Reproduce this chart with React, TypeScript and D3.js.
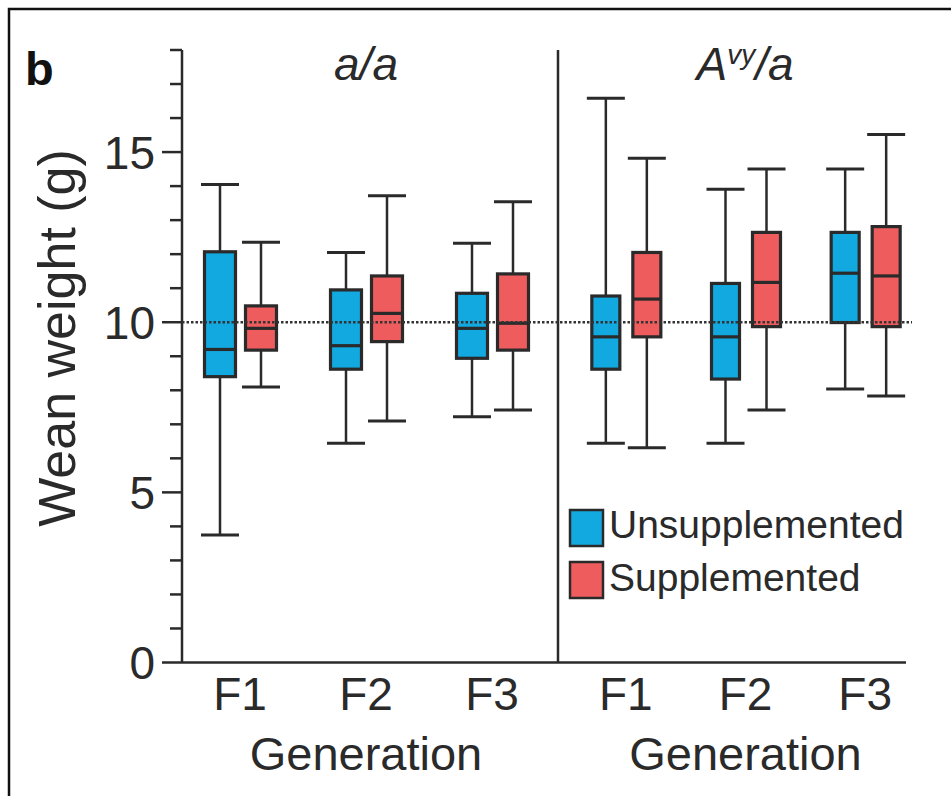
import React from 'react';
import * as d3 from 'd3';

const generations = ['F1', 'F2', 'F3'];
const seriesNames = ['Unsupplemented', 'Supplemented'];
const yTicksMajor = [0, 5, 10, 15];
const yTicksMinor = [1, 2, 3, 4, 6, 7, 8, 9, 11, 12, 13, 14, 16, 17, 18];
const referenceValue = 10;

// five-number summaries per generation: [low, q1, median, q3, high]
const aaUnsupplemented = [
  [3.75, 8.4, 9.2, 12.07, 14.05],
  [6.44, 8.62, 9.31, 10.95, 12.05],
  [7.22, 8.94, 9.82, 10.85, 12.32],
];
const aaSupplemented = [
  [8.1, 9.18, 9.82, 10.48, 12.35],
  [7.1, 9.43, 10.26, 11.36, 13.72],
  [7.42, 9.18, 9.97, 11.42, 13.54],
];
const avyUnsupplemented = [
  [6.44, 8.62, 9.57, 10.77, 16.58],
  [6.44, 8.33, 9.57, 11.14, 13.91],
  [8.04, 9.99, 11.44, 12.64, 14.5],
];
const avySupplemented = [
  [6.31, 9.57, 10.68, 12.05, 14.82],
  [7.42, 9.87, 11.17, 12.64, 14.5],
  [7.83, 9.87, 11.36, 12.81, 15.52],
];

const colors = ['#12a9e0', '#ee5c5d'];
const ink = '#2a2a2a';
const font = "'Liberation Sans', Arial, Helvetica, sans-serif";

export default function App() {
  const y = d3.scaleLinear().domain([0, 18]).range([662.5, 50]);
  const xLeft = d3.scaleBand().domain(generations).range([177, 555]);
  const xRight = d3.scaleBand().domain(generations).range([566, 925]);
  const axisX = 182;
  const axisEndX = 906;
  const dividerX = 558;

  const panels = [
    { scale: xLeft, data: [aaUnsupplemented, aaSupplemented], boxW: 31 },
    { scale: xRight, data: [avyUnsupplemented, avySupplemented], boxW: 28 },
  ];
  const offsets = [-20, 21];
  const capW = 38;

  const boxes: React.ReactNode[] = [];
  panels.forEach((p, pi) => {
    p.data.forEach((series, si) => {
      series.forEach((s, gi) => {
        const cx = (p.scale(generations[gi]) as number) + p.scale.bandwidth() / 2 + offsets[si];
        const [lo, q1, med, q3, hi] = s;
        boxes.push(
          <g key={`${pi}-${si}-${gi}`}>
            <line x1={cx} x2={cx} y1={y(hi)} y2={y(lo)} stroke={ink} strokeWidth={2.5} />
            <line x1={cx - capW / 2} x2={cx + capW / 2} y1={y(hi)} y2={y(hi)} stroke={ink} strokeWidth={3} />
            <line x1={cx - capW / 2} x2={cx + capW / 2} y1={y(lo)} y2={y(lo)} stroke={ink} strokeWidth={3} />
            <rect x={cx - p.boxW / 2} y={y(q3)} width={p.boxW} height={y(q1) - y(q3)} fill={colors[si]} stroke={ink} strokeWidth={3.2} />
            <line x1={cx - p.boxW / 2} x2={cx + p.boxW / 2} y1={y(med)} y2={y(med)} stroke={ink} strokeWidth={3.2} />
          </g>
        );
      });
    });
  });

  return (
    <svg width={951} height={796} style={{ position: 'absolute', left: 0, top: 0, background: '#fff' }} fontFamily={font}>
      <rect x={0} y={0} width={951} height={796} fill="#fff" />
      <path d="M9,800 L9,9 L955,9" fill="none" stroke="#111" strokeWidth={2.5} />
      <text x={25} y={85} fontSize={47} fontWeight="bold" fill="#111">b</text>

      {/* y axis */}
      <line x1={axisX} x2={axisX} y1={y(18)} y2={y(0)} stroke={ink} strokeWidth={2.5} />
      {yTicksMinor.map((t) => (
        <line key={`mi${t}`} x1={axisX - 12} x2={axisX} y1={y(t)} y2={y(t)} stroke={ink} strokeWidth={2.5} />
      ))}
      {yTicksMajor.map((t) => (
        <g key={`ma${t}`}>
          <line x1={axisX - 20} x2={axisX} y1={y(t)} y2={y(t)} stroke={ink} strokeWidth={2.5} />
          <text x={155} y={y(t)} dy="0.36em" textAnchor="end" fontSize={46} fill={ink}>{t}</text>
        </g>
      ))}
      <text transform={`translate(75,${338}) rotate(-90)`} textAnchor="middle" fontSize={52} fill={ink}>Wean weight (g)</text>

      {/* x axis */}
      <line x1={axisX} x2={axisEndX} y1={y(0)} y2={y(0)} stroke={ink} strokeWidth={2.5} />
      <line x1={dividerX} x2={dividerX} y1={y(18)} y2={y(0)} stroke={ink} strokeWidth={2.5} />

      {boxes}

      <line x1={axisX} x2={912} y1={y(referenceValue)} y2={y(referenceValue)} stroke="#333" strokeWidth={2.5} strokeDasharray="2.5,2" />

      {panels.map((p, pi) => (
        <g key={`xl${pi}`}>
          {generations.map((g) => (
            <text key={g} x={(p.scale(g) as number) + p.scale.bandwidth() / 2} y={710} textAnchor="middle" fontSize={46} fill={ink}>{g}</text>
          ))}
          <text x={(p.scale('F2') as number) + p.scale.bandwidth() / 2} y={770} textAnchor="middle" fontSize={47} fill={ink}>Generation</text>
        </g>
      ))}

      <text x={366} y={80} textAnchor="middle" fontSize={46} fontStyle="italic" fill={ink}>a/a</text>
      <text x={745} y={80} textAnchor="middle" fontSize={46} fontStyle="italic" fill={ink}>
        A<tspan fontSize={28} dy={-16}>vy</tspan><tspan dy={16}>/a</tspan>
      </text>

      {seriesNames.map((n, i) => (
        <g key={n}>
          <rect x={570} y={510 + i * 52} width={33} height={36} fill={colors[i]} stroke={ink} strokeWidth={2.5} />
          <text x={609} y={538 + i * 53} fontSize={39} fill={ink}>{n}</text>
        </g>
      ))}
    </svg>
  );
}
